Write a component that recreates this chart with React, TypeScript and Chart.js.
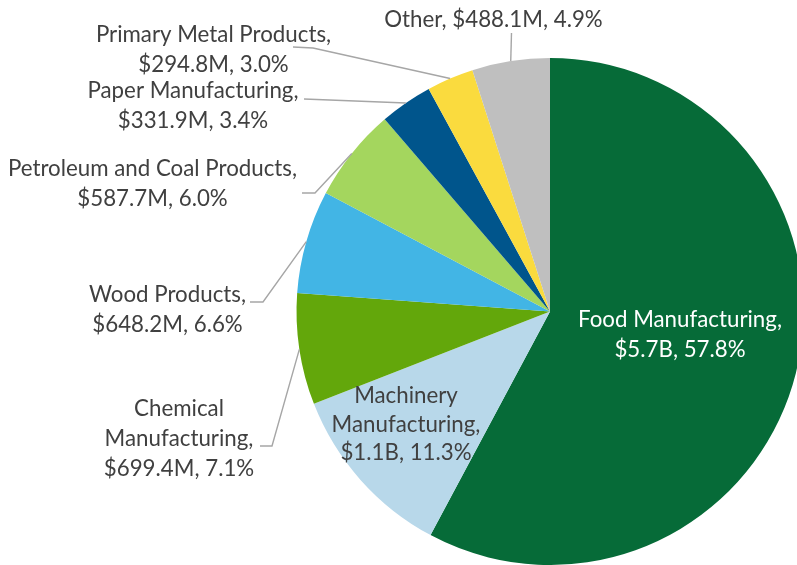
import React, { useEffect, useRef } from "react";
import { Chart, registerables } from "chart.js";

Chart.register(...registerables);

// ---- data ----
const categories = [
  "Food Manufacturing",
  "Machinery Manufacturing",
  "Chemical Manufacturing",
  "Wood Products",
  "Petroleum and Coal Products",
  "Paper Manufacturing",
  "Primary Metal Products",
  "Other",
];
const valuesMillions = [5700, 1110, 699.4, 648.2, 587.7, 331.9, 294.8, 488.1];
const valueLabels = ["$5.7B", "$1.1B", "$699.4M", "$648.2M", "$587.7M", "$331.9M", "$294.8M", "$488.1M"];
const percentLabels = ["57.8%", "11.3%", "7.1%", "6.6%", "6.0%", "3.4%", "3.0%", "4.9%"];

// ---- styles ----
const sliceColors = ["#066B38", "#B8D8EA", "#63A70B", "#42B5E5", "#A4D65E", "#00558C", "#FADB3E", "#BFBFBF"];
const FONT = "Lato, 'Open Sans', sans-serif";
const TEXT_DARK = "#404040";
const LEADER = "#A6A6A6";

// layout of labels: wrap mode, centre x, first baseline, line height, colour, leader stub points
type Layout = { wrap: "one" | "two" | "three"; cx: number; y0: number; lh: number; color: string; leader: number[][] | null };
const labelLayout: Layout[] = [
  { wrap: "two", cx: 680, y0: 327, lh: 30, color: "#FFFFFF", leader: null },
  { wrap: "three", cx: 406, y0: 403, lh: 28.5, color: TEXT_DARK, leader: null },
  { wrap: "three", cx: 179, y0: 416, lh: 30, color: TEXT_DARK, leader: [[260, 446], [272, 446]] },
  { wrap: "two", cx: 167.5, y0: 302, lh: 29.5, color: TEXT_DARK, leader: [[250, 302], [263, 302]] },
  { wrap: "two", cx: 152.5, y0: 176, lh: 29.5, color: TEXT_DARK, leader: [[302, 193], [315, 193]] },
  { wrap: "two", cx: 193, y0: 98, lh: 30, color: TEXT_DARK, leader: [[304, 99]] },
  { wrap: "two", cx: 213.5, y0: 42, lh: 30, color: TEXT_DARK, leader: [[293, 47], [313, 48]] },
  { wrap: "one", cx: 493.5, y0: 27, lh: 30, color: TEXT_DARK, leader: [[511.5, 33]] },
];

function labelLines(i: number): string[] {
  const L = labelLayout[i];
  const tail = `${valueLabels[i]}, ${percentLabels[i]}`;
  if (L.wrap === "one") return [`${categories[i]}, ${tail}`];
  if (L.wrap === "three") {
    const parts = categories[i].split(" ");
    return [parts[0], `${parts.slice(1).join(" ")},`, tail];
  }
  return [`${categories[i]},`, tail];
}

const sliceLabelPlugin = {
  id: "sliceLabels",
  afterDatasetsDraw(chart: any) {
    const ctx = chart.ctx as CanvasRenderingContext2D;
    const meta = chart.getDatasetMeta(0);
    ctx.save();
    ctx.font = `100px ${FONT}`;
    const ref = ctx.measureText("Food Manufacturing,").width;
    const size = (100 * 204) / ref;
    meta.data.forEach((arc: any, i: number) => {
      const p = arc.getProps(["x", "y", "startAngle", "endAngle", "outerRadius"], true);
      const mid = (p.startAngle + p.endAngle) / 2;
      const ex = p.x + Math.cos(mid) * p.outerRadius;
      const ey = p.y + Math.sin(mid) * p.outerRadius;
      const L = labelLayout[i];
      if (L.leader) {
        ctx.beginPath();
        ctx.strokeStyle = LEADER;
        ctx.lineWidth = 1.4;
        ctx.moveTo(L.leader[0][0], L.leader[0][1]);
        for (let k = 1; k < L.leader.length; k++) ctx.lineTo(L.leader[k][0], L.leader[k][1]);
        ctx.lineTo(ex, ey);
        ctx.stroke();
      }
      ctx.font = `${size}px ${FONT}`;
      ctx.fillStyle = L.color;
      ctx.textAlign = "center";
      ctx.textBaseline = "alphabetic";
      labelLines(i).forEach((t, k) => ctx.fillText(t, L.cx, L.y0 + k * L.lh));
    });
    ctx.restore();
  },
};

export default function App() {
  const ref = useRef<HTMLCanvasElement | null>(null);
  useEffect(() => {
    if (!ref.current) return;
    const chart = new Chart(ref.current, {
      type: "pie",
      data: {
        labels: categories,
        datasets: [
          {
            data: valuesMillions,
            backgroundColor: sliceColors,
            borderWidth: 0,
            hoverOffset: 0,
          },
        ],
      },
      options: {
        responsive: false,
        animation: false,
        layout: { padding: { left: 296.5, right: 0.5, top: 58, bottom: 0 } },
        plugins: { legend: { display: false }, tooltip: { enabled: false } },
      },
      plugins: [sliceLabelPlugin],
    });
    return () => chart.destroy();
  }, []);
  return (
    <div style={{ position: "absolute", left: 0, top: 0, width: 797, height: 565, overflow: "hidden", background: "#fff" }}>
      <canvas ref={ref} width={804} height={565} style={{ display: "block" }} />
    </div>
  );
}
